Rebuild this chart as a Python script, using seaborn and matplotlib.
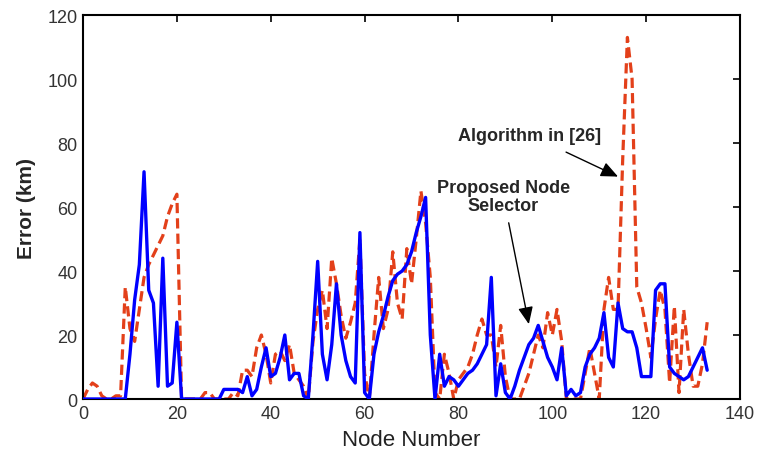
import matplotlib
matplotlib.use("Agg")
import matplotlib.pyplot as plt
import seaborn as sns
import pandas as pd
import numpy as np

# Node indices and localisation error (km) for the two methods
nodes = list(range(0, 134))

proposed_error = [
    0, 0, 0, 0, 0, 0, 0, 0, 0, 0,
    14, 31, 42, 71, 34, 30, 4, 44, 4, 5,
    24, 0, 0, 0, 0, 0, 0, 0, 0, 0,
    3, 3, 3, 3, 2, 7, 1, 3, 10, 16,
    7, 8, 13, 20, 6, 8, 8, 1, 0, 20,
    43, 14, 6, 17, 36, 20, 12, 7, 5, 52,
    2, 0, 14, 21, 26, 32, 37, 39, 40, 42,
    46, 52, 57, 63, 20, 0, 14, 4, 7, 6,
    4, 6, 8, 9, 11, 14, 17, 38, 1, 11,
    2, 0, 4, 9, 13, 17, 19, 23, 18, 13,
    10, 6, 16, 1, 3, 1, 2, 10, 14, 16,
    19, 27, 13, 10, 30, 22, 21, 21, 16, 7,
    7, 7, 34, 36, 36, 10, 8, 7, 6, 7,
    10, 13, 16, 9,
]

reference_error = [
    0, 3, 5, 4, 1, 0, 0, 1, 1, 35,
    22, 18, 28, 38, 42, 45, 48, 51, 57, 61,
    64, 0, 0, 0, 0, 0, 2, 2, 0, 0,
    0, 0, 2, 1, 9, 9, 7, 16, 20, 14,
    5, 14, 15, 12, 17, 8, 6, 4, 0, 18,
    28, 34, 22, 44, 36, 26, 19, 24, 30, 50,
    8, 0, 20, 38, 22, 28, 46, 30, 25, 47,
    36, 50, 65, 55, 38, 2, 0, 14, 8, 0,
    6, 8, 10, 14, 20, 25, 20, 20, 10, 23,
    7, 0, 0, 0, 4, 8, 14, 20, 16, 27,
    20, 28, 18, 0, 0, 0, 0, 8, 16, 8,
    0, 28, 38, 28, 28, 75, 113, 100, 35, 30,
    22, 13, 25, 34, 28, 5, 29, 2, 28, 14,
    4, 4, 11, 24,
]

x_ticks = [0, 20, 40, 60, 80, 100, 120, 140]
y_ticks = [0, 20, 40, 60, 80, 100, 120]

sns.set_theme(style="white")
plt.rcParams["font.family"] = ["Liberation Sans", "DejaVu Sans"]

df = pd.DataFrame({"node": nodes,
                   "proposed": proposed_error,
                   "reference": reference_error})

fig = plt.figure(figsize=(7.59, 4.56), dpi=100)
ax = fig.add_axes([0.1094, 0.1228, 0.8656, 0.8421])

sns.lineplot(data=df, x="node", y="reference", ax=ax, color="#E3401A",
             linewidth=2.3, linestyle=(0, (3.2, 1.6)), zorder=2)
sns.lineplot(data=df, x="node", y="proposed", ax=ax, color="#0000FF",
             linewidth=2.4, zorder=3)

ax.set_xlim(0, 140)
ax.set_ylim(0, 120)
ax.set_xticks(x_ticks)
ax.set_yticks(y_ticks)
ax.tick_params(direction="in", length=5, width=1.2, top=True, right=True,
               labelsize=13, colors="black", labelcolor="#333333", pad=4)
for s in ax.spines.values():
    s.set_color("black")
    s.set_linewidth(1.5)
    s.set_visible(True)

ax.set_xlabel("Node Number", fontsize=16, labelpad=5, color="#222222")
ax.set_ylabel("Error (km)", fontsize=15, fontweight="bold", labelpad=8)

narrow = ["Liberation Sans Narrow", "Liberation Sans", "DejaVu Sans"]
ax.annotate("Algorithm in [26]", xy=(114.0, 69.5), xytext=(95.2, 82.5),
            ha="center", va="center", fontsize=13, fontweight="bold",
            family=narrow,
            arrowprops=dict(arrowstyle="-|>,head_length=0.8,head_width=0.35",
                            color="black", lw=1.0,
                            shrinkA=9, shrinkB=0))
ax.annotate("Proposed Node\nSelector", xy=(95.0, 23.4), xytext=(89.6, 63.2),
            ha="center", va="center", fontsize=13, fontweight="bold",
            family=narrow, linespacing=1.05,
            arrowprops=dict(arrowstyle="-|>,head_length=0.8,head_width=0.35",
                            color="black", lw=1.0,
                            shrinkA=4, shrinkB=0))

fig.savefig("out.png", dpi=100, facecolor="white")
